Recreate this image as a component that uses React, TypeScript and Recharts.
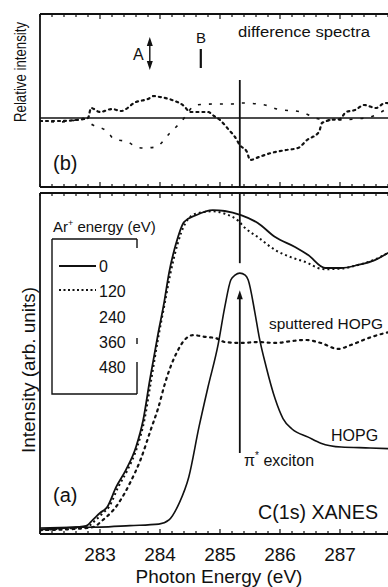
import React from 'react'
import { LineChart, Line, XAxis, YAxis, ReferenceLine, ReferenceDot } from 'recharts'

const INK = '#111'
const FONT = '"Liberation Sans", Arial, sans-serif'

// x axis, photon energy (eV)
const TICK_LABELS = [283, 284, 285, 286, 287]
const TICKS = Array.from({ length: 31 }, (_, i) => Math.round((282 + i * 0.2) * 10) / 10)
const PI_EXCITON = 285.33

// (b) difference spectra, relative intensity
const DIFF_DOT_E = [282.0, 282.3, 282.6, 282.8, 282.85, 283.0, 283.2, 283.35, 283.6, 283.8, 283.9, 284.0, 284.2, 284.4, 284.5, 284.8, 284.9, 285.0, 285.15, 285.25, 285.33, 285.45, 285.5, 285.65, 285.85, 286.1, 286.3, 286.45, 286.65, 286.7, 286.85, 287.0, 287.1, 287.25, 287.4, 287.6, 287.75, 288.0]
const DIFF_DOT_V = [-0.3, -0.3, -0.2, 0.0, 1.0, 0.6, 0.9, 0.7, 1.6, 1.9, 2.2, 2.1, 1.8, 1.2, 0.6, 0.6, 0.2, -0.2, -1.2, -1.9, -2.7, -3.4, -4.2, -3.9, -3.5, -3.2, -3.0, -2.2, -1.4, -0.5, -0.2, -0.1, 0.6, 0.8, 1.3, 1.0, 1.5, 1.4]
const DIFF_DASH_E = [282.0, 282.3, 282.6, 282.65, 282.88, 283.13, 283.23, 283.47, 283.6, 283.72, 283.93, 284.15, 284.35, 284.6, 284.9, 285.2, 285.35, 285.75, 285.95, 286.35, 286.65, 286.9, 287.25, 287.5, 287.8]
const DIFF_DASH_V = [-0.3, -0.4, -0.2, 0.1, -0.7, -1.4, -2.1, -2.4, -2.9, -3.0, -2.9, -1.6, -0.4, 1.3, 1.4, 1.4, 1.5, 1.3, 0.9, 0.6, -0.1, -0.2, -0.1, 0.1, 1.0]

// (a) C(1s) XANES, intensity (arb. units)
const AR0_E = [282.0, 282.4, 282.77, 282.88, 283.0, 283.12, 283.27, 283.43, 283.6, 283.72, 283.83, 283.97, 284.07, 284.15, 284.27, 284.4, 284.6, 284.88, 285.08, 285.35, 285.63, 285.92, 286.25, 286.47, 286.75, 287.02, 287.3, 287.58, 287.8, 288.0]
const AR0_V = [1.5, 2.0, 2.7, 4.7, 7.0, 9.0, 15.7, 21.3, 29.0, 38.0, 51.3, 67.0, 77.3, 87.0, 97.0, 104.0, 106.3, 108.0, 107.7, 106.3, 103.7, 99.0, 95.7, 93.0, 88.7, 88.7, 89.7, 91.3, 93.7, 95.5]
const AR120_E = [282.0, 282.4, 282.8, 282.92, 283.05, 283.15, 283.3, 283.45, 283.62, 283.74, 283.85, 283.98, 284.08, 284.17, 284.29, 284.42, 284.6, 284.88, 285.08, 285.3, 285.42, 285.63, 285.92, 286.18, 286.47, 286.63, 286.75, 287.02, 287.3, 287.58, 287.8, 288.0]
const AR120_V = [1.3, 1.8, 2.6, 4.5, 7.0, 9.0, 15.5, 21.0, 29.0, 38.0, 51.0, 66.5, 77.0, 86.5, 96.5, 103.5, 106.8, 107.6, 106.8, 104.5, 102.0, 99.0, 94.7, 92.3, 90.3, 88.7, 88.3, 88.5, 89.7, 91.5, 93.7, 95.5]
const SPUT_E = [282.0, 282.5, 282.88, 283.05, 283.3, 283.5, 283.68, 283.85, 283.97, 284.08, 284.18, 284.28, 284.4, 284.55, 284.77, 284.93, 285.08, 285.35, 285.63, 285.92, 286.18, 286.42, 286.68, 286.97, 287.18, 287.47, 287.75, 288.0]
const SPUT_V = [1.3, 1.6, 2.3, 4.7, 10.0, 17.0, 25.0, 35.0, 42.0, 50.0, 56.0, 60.5, 64.5, 66.3, 65.7, 65.3, 64.0, 63.7, 64.0, 63.7, 64.3, 64.7, 63.7, 61.7, 63.0, 65.3, 67.0, 68.0]
const HOPG_E = [282.0, 282.5, 283.0, 283.5, 283.98, 284.15, 284.32, 284.48, 284.65, 284.8, 284.97, 285.08, 285.18, 285.25, 285.33, 285.42, 285.47, 285.58, 285.65, 285.77, 285.92, 286.05, 286.2, 286.47, 286.68, 287.02, 287.5, 288.0]
const HOPG_V = [2.0, 2.2, 2.3, 2.8, 3.3, 4.7, 10.3, 19.0, 35.7, 49.0, 63.3, 75.7, 84.7, 86.3, 87.0, 86.3, 84.7, 74.0, 66.0, 55.7, 45.0, 38.5, 35.0, 32.3, 30.3, 29.0, 28.7, 28.3]

const LEGEND = ['0', '120', '240', '360', '480']

const pts = (es: number[], vs: number[]) => es.map((e, i) => ({ e, v: vs[i] }))

function Tick({ x, y, payload, dir, label }: any) {
  const v = payload.value
  const major = TICK_LABELS.includes(v)
  const len = major ? 5 : 3
  return (
    <g>
      <line x1={x} x2={x} y1={y} y2={y + dir * len} stroke={INK} strokeWidth={1.2} />
      {label && major && (
        <text x={x} y={y + 27} textAnchor="middle" fontSize={19} fontFamily={FONT} fill={INK}>{v}</text>
      )}
    </g>
  )
}

const headUp = ({ cx, cy }: any) => <path d={`M${cx},${cy} l-3,9 l6,0 z`} fill={INK} />
const headDown = ({ cx, cy }: any) => <path d={`M${cx},${cy} l-3,-9 l6,0 z`} fill={INK} />

function frameAxes(bottomLabels: boolean) {
  return [
    <XAxis key="xb" xAxisId="b" dataKey="e" type="number" domain={[282, 288]} allowDataOverflow ticks={TICKS} interval={0}
      height={1} tickSize={0} tickMargin={0} tickLine={false} axisLine={{ stroke: INK, strokeWidth: 1.8 }}
      tick={(p: any) => <Tick {...p} dir={-1} label={bottomLabels} />} />,
    <XAxis key="xt" xAxisId="t" orientation="top" dataKey="e" type="number" domain={[282, 288]} allowDataOverflow
      ticks={TICKS} interval={0} height={1} tickSize={0} tickMargin={0} tickLine={false}
      axisLine={{ stroke: INK, strokeWidth: 1.8 }} tick={(p: any) => <Tick {...p} dir={1} label={false} />} />,
  ]
}

export default function App() {
  const lineProps = { xAxisId: 'b', dataKey: 'v', dot: false, isAnimationActive: false, type: 'monotone' as const, stroke: INK }
  const ref = { xAxisId: 'b', stroke: INK }
  return (
    <div style={{ position: 'absolute', left: 0, top: 0, width: 388, height: 587, overflow: 'hidden', background: '#fff' }}>
      <div style={{ position: 'absolute', left: 0, top: 0 }}>
        <LineChart width={410} height={190} margin={{ top: 13, right: 10, bottom: 2, left: 39 }}>
          {frameAxes(false)}
          <YAxis type="number" domain={[-6.9, 10.4]} width={1} tick={false} tickLine={false} axisLine={{ stroke: INK, strokeWidth: 1.8 }} />
          <ReferenceLine {...ref} y={0} strokeWidth={1.5} />
          <Line {...lineProps} data={pts(DIFF_DOT_E, DIFF_DOT_V)} strokeWidth={2.2} strokeDasharray="2 4" strokeLinecap="round" />
          <Line {...lineProps} data={pts(DIFF_DASH_E, DIFF_DASH_V)} strokeWidth={1.6} strokeDasharray="3 8" />
          <ReferenceLine {...ref} segment={[{ x: PI_EXCITON, y: 3.8 }, { x: PI_EXCITON, y: -6.9 }]} strokeWidth={1.8} />
          <ReferenceLine {...ref} segment={[{ x: 283.83, y: 7.6 }, { x: 283.83, y: 5.3 }]} strokeWidth={1.4} />
          <ReferenceDot xAxisId="b" x={283.83} y={8.1} shape={headUp} />
          <ReferenceDot xAxisId="b" x={283.83} y={4.8} shape={headDown} />
          <ReferenceLine {...ref} segment={[{ x: 284.68, y: 6.9 }, { x: 284.68, y: 5.0 }]} strokeWidth={2.2} />
        </LineChart>
      </div>
      <div style={{ position: 'absolute', left: 0, top: 190 }}>
        <LineChart width={410} height={397} margin={{ top: 2, right: 10, bottom: 52, left: 39 }}>
          {frameAxes(true)}
          <YAxis type="number" domain={[0, 113.7]} width={1} tick={false} tickLine={false} axisLine={{ stroke: INK, strokeWidth: 1.8 }} />
          <Line {...lineProps} data={pts(AR0_E, AR0_V)} strokeWidth={1.8} />
          <Line {...lineProps} data={pts(AR120_E, AR120_V)} strokeWidth={2} strokeDasharray="2 3" />
          <Line {...lineProps} data={pts(SPUT_E, SPUT_V)} strokeWidth={2.2} strokeDasharray="2 4.5" strokeLinecap="round" />
          <Line {...lineProps} data={pts(HOPG_E, HOPG_V)} strokeWidth={1.6} />
          <ReferenceLine {...ref} segment={[{ x: PI_EXCITON, y: 113.7 }, { x: PI_EXCITON, y: 90.3 }]} strokeWidth={1.8} />
          <ReferenceLine {...ref} segment={[{ x: PI_EXCITON, y: 79 }, { x: PI_EXCITON, y: 27 }]} strokeWidth={1.8} />
          <ReferenceDot xAxisId="b" x={PI_EXCITON} y={81.3} shape={headUp} />
        </LineChart>
      </div>
      <svg width={388} height={587} style={{ position: 'absolute', left: 0, top: 0, pointerEvents: 'none' }}
        fontFamily={FONT} fill={INK}>
        <text transform="translate(26,72) rotate(-90)" textAnchor="middle" fontSize={16} textLength={100} lengthAdjust="spacingAndGlyphs">Relative intensity</text>
        <text transform="translate(35,370) rotate(-90)" textAnchor="middle" fontSize={18} textLength={166} lengthAdjust="spacingAndGlyphs">Intensity (arb. units)</text>
        <text x={238} y={37} fontSize={14} textLength={132} lengthAdjust="spacingAndGlyphs">difference spectra</text>
        <text x={133} y={60} fontSize={16}>A</text>
        <text x={196} y={43} fontSize={15}>B</text>
        <text x={53} y={170} fontSize={20}>(b)</text>
        <text x={53} y={232} fontSize={15}>Ar<tspan dy={-6} fontSize={9}>+</tspan><tspan dy={6}> energy (eV)</tspan></text>
        <path d="M52,239 H137 M52,239 V394 H137 M137,239 V248 M137,338 V344 M137,362 V394" fill="none" stroke={INK} strokeWidth={1.4} />
        <line x1={59} x2={96} y1={266} y2={266} stroke={INK} strokeWidth={2} />
        <line x1={59} x2={96} y1={290} y2={290} stroke={INK} strokeWidth={1.8} strokeDasharray="2 2.5" />
        {LEGEND.map((t, i) => (
          <text key={t} x={99} y={272 + i * 25.3} fontSize={16}>{t}</text>
        ))}
        <text x={269} y={329} fontSize={15} textLength={114} lengthAdjust="spacingAndGlyphs">sputtered HOPG</text>
        <text x={331} y={441} fontSize={16}>HOPG</text>
        <text x={244} y={466} fontSize={16}>π<tspan dy={-7} fontSize={10}>*</tspan><tspan dy={7}> exciton</tspan></text>
        <text x={53} y={502} fontSize={20}>(a)</text>
        <text x={258} y={519} fontSize={19.5} textLength={120} lengthAdjust="spacingAndGlyphs">C(1s) XANES</text>
        <text x={219} y={583} fontSize={19} textAnchor="middle">Photon Energy (eV)</text>
      </svg>
    </div>
  )
}
